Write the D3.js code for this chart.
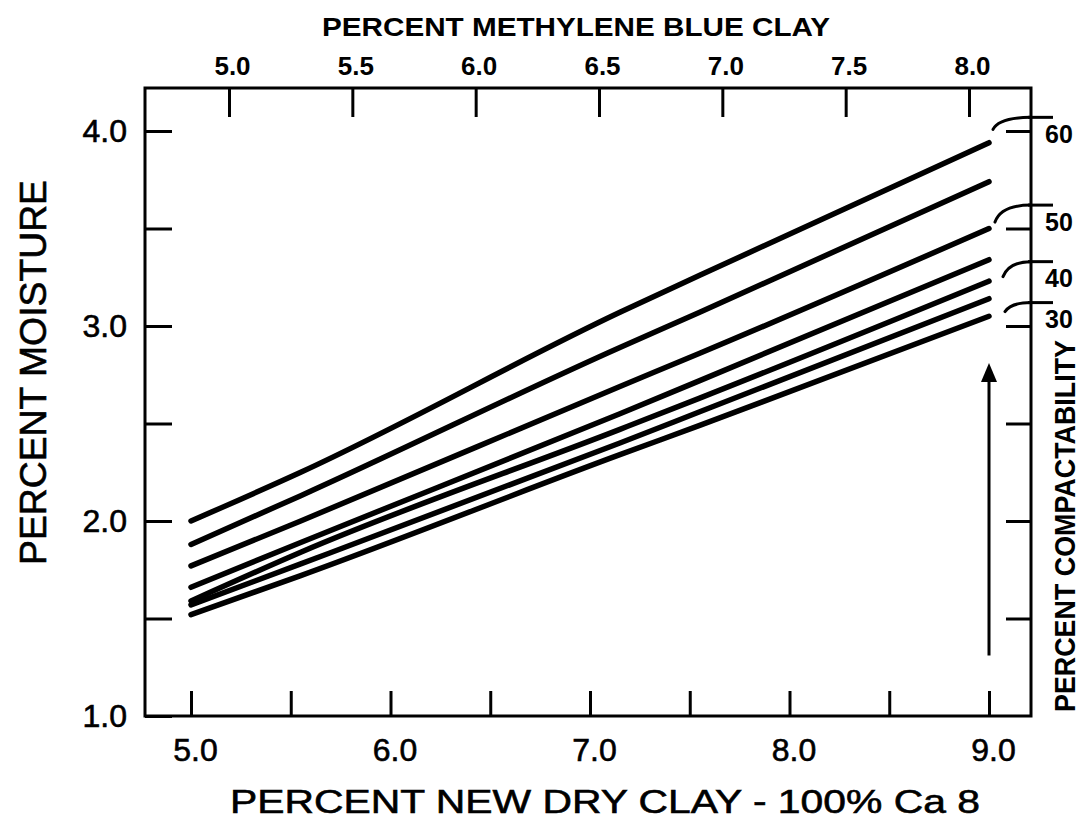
<html lang="en">
<head>
  <meta charset="UTF-8">
  <title>Percent Moisture vs New Dry Clay</title>
  <script src="https://d3js.org/d3.v7.min.js"></script>
</head>
<style>
  body { margin: 0; background: #fff; }
  text { fill: #000; font-family: "Liberation Sans", Arial, sans-serif; }
  .axis line { stroke: #000; stroke-width: 3; }
  .axis .domain { stroke: none; }
  .heavy { stroke: #000; stroke-width: 0.6px; }
</style>
<body>
  <svg class="chart" width="1081" height="826"></svg>
  <script>
    // data
    const clayX = [5.0, 5.55, 7.15, 7.55, 9.0];
    const line1 = [2.00, 2.25, 3.07, 3.26, 3.94];
    const line2 = [1.88, 2.13, 2.89, 3.07, 3.74];
    const line3 = [1.77, 2.00, 2.69, 2.86, 3.50];
    const line4 = [1.66, 1.89, 2.55, 2.72, 3.34];
    const line5 = [1.59, 1.84, 2.47, 2.63, 3.23];
    const line6 = [1.57, 1.78, 2.40, 2.56, 3.14];
    const line7 = [1.52, 1.72, 2.34, 2.49, 3.05];
    const allLines = [line1, line2, line3, line4, line5, line6, line7];

    const bottomTicks = [5.0, 5.5, 6.0, 6.5, 7.0, 7.5, 8.0, 8.5, 9.0];
    const topTicks = [5.0, 5.5, 6.0, 6.5, 7.0, 7.5, 8.0];
    const moistureTicks = [1.0, 1.5, 2.0, 2.5, 3.0, 3.5, 4.0];
    const compactLabels = ['60', '50', '40', '30'];
    const compactAt = [4.07, 3.62, 3.33, 3.12];   // where the compactability marks sit (moisture units)
    const arrowFrom = 1.31, arrowTo = 2.81;

    const svg = d3.select('svg.chart');
    const frame = { left: 145, right: 1031, top: 88, bottom: 716 };

    const xScale = d3.scaleLinear().domain([5, 9]).range([191, 989]);
    const xTop = d3.scaleLinear().domain([5, 8]).range([229, 969]);
    const yScale = d3.scaleLinear().domain([1, 4]).range([716, 131]);

    // frame
    svg.append('rect')
      .attr('x', frame.left).attr('y', frame.top)
      .attr('width', frame.right - frame.left)
      .attr('height', frame.bottom - frame.top)
      .attr('fill', 'none').attr('stroke', '#000').attr('stroke-width', 3);

    // left axis
    let leftAxis = d3.axisLeft(yScale)
      .tickValues(moistureTicks)
      .tickSize(-27).tickSizeOuter(0).tickPadding(18)
      .tickFormat(d => d % 1 === 0 ? d.toFixed(1) : '');
    svg.append('g')
      .attr('class', 'y axis')
      .attr('transform', `translate(${frame.left},0)`)
      .call(leftAxis)
      .selectAll('text').attr('class', 'heavy').style('font-size', '32px');

    // right axis (inner ticks only)
    let rightAxis = d3.axisRight(yScale)
      .tickValues(moistureTicks.slice(1))
      .tickSize(-25).tickSizeOuter(0).tickFormat('');
    svg.append('g')
      .attr('class', 'y axis')
      .attr('transform', `translate(${frame.right},0)`)
      .call(rightAxis);

    // bottom axis
    let bottomAxis = d3.axisBottom(xScale)
      .tickValues(bottomTicks)
      .tickSize(-25).tickSizeOuter(0).tickPadding(22)
      .tickFormat(d => d % 1 === 0 ? d.toFixed(1) : '');
    svg.append('g')
      .attr('class', 'x axis')
      .attr('transform', `translate(0,${frame.bottom})`)
      .call(bottomAxis)
      .selectAll('text').attr('class', 'heavy').style('font-size', '32px').attr('dx', 4);

    // top axis
    let topAxis = d3.axisTop(xTop)
      .tickValues(topTicks)
      .tickSize(-29).tickSizeOuter(0).tickPadding(13)
      .tickFormat(d => d.toFixed(1));
    svg.append('g')
      .attr('class', 'x axis')
      .attr('transform', `translate(0,${frame.top})`)
      .call(topAxis)
      .selectAll('text').style('font-size', '26px').style('font-weight', 'bold').attr('dx', 3);

    // curves
    const line = d3.line()
      .x((d, i) => xScale(clayX[i]))
      .y(d => yScale(d))
      .curve(d3.curveMonotoneX);
    allLines.forEach(vals => {
      svg.append('path')
        .attr('d', line(vals))
        .attr('fill', 'none')
        .attr('stroke', '#000')
        .attr('stroke-width', 5.5)
        .attr('stroke-linecap', 'round');
    });

    // compactability marks on the right
    const bracketStartX = [993, 995, 1003, 1005];
    const bracketDrop = [12, 17, 15, 9];
    compactLabels.forEach((lab, i) => {
      const ty = yScale(compactAt[i]);
      svg.append('line')
        .attr('x1', frame.right - 3).attr('x2', frame.right + 22)
        .attr('y1', ty).attr('y2', ty)
        .attr('stroke', '#000').attr('stroke-width', 3);
      const sx = bracketStartX[i], sy = ty + bracketDrop[i];
      svg.append('path')
        .attr('d', `M${sx},${sy} Q${sx + 6},${ty} ${frame.right},${ty}`)
        .attr('fill', 'none').attr('stroke', '#000').attr('stroke-width', 3)
        .attr('stroke-linecap', 'round');
      svg.append('text')
        .attr('x', frame.right + 14).attr('y', ty + 17)
        .attr('dy', '0.35em')
        .style('font-size', '25px').style('font-weight', 'bold')
        .text(lab);
    });

    // arrow
    const ax = xScale(9.0);
    svg.append('line')
      .attr('x1', ax).attr('x2', ax)
      .attr('y1', yScale(arrowFrom)).attr('y2', yScale(arrowTo) + 14)
      .attr('stroke', '#000').attr('stroke-width', 3);
    svg.append('path')
      .attr('d', `M${ax},${yScale(arrowTo)} L${ax - 8},${yScale(arrowTo) + 19} L${ax + 8},${yScale(arrowTo) + 19} Z`)
      .attr('fill', '#000');

    // titles
    svg.append('text')
      .attr('x', 322).attr('y', 36)
      .attr('textLength', 508).attr('lengthAdjust', 'spacingAndGlyphs')
      .style('font-size', '25px').style('font-weight', 'bold')
      .text('PERCENT METHYLENE BLUE CLAY');

    svg.append('text')
      .attr('x', 230).attr('y', 813)
      .attr('class', 'heavy')
      .attr('textLength', 750).attr('lengthAdjust', 'spacingAndGlyphs')
      .style('font-size', '34px')
      .text('PERCENT NEW DRY CLAY - 100% Ca 8');

    svg.append('text')
      .attr('transform', 'translate(46,565) rotate(-90)')
      .attr('class', 'heavy')
      .attr('textLength', 385).attr('lengthAdjust', 'spacingAndGlyphs')
      .style('font-size', '36px')
      .text('PERCENT MOISTURE');

    svg.append('text')
      .attr('transform', 'translate(1075,712) rotate(-90)')
      .attr('textLength', 372).attr('lengthAdjust', 'spacingAndGlyphs')
      .style('font-size', '30px').style('font-weight', 'bold')
      .text('PERCENT COMPACTABILITY');
  </script>
</body>
</html>
